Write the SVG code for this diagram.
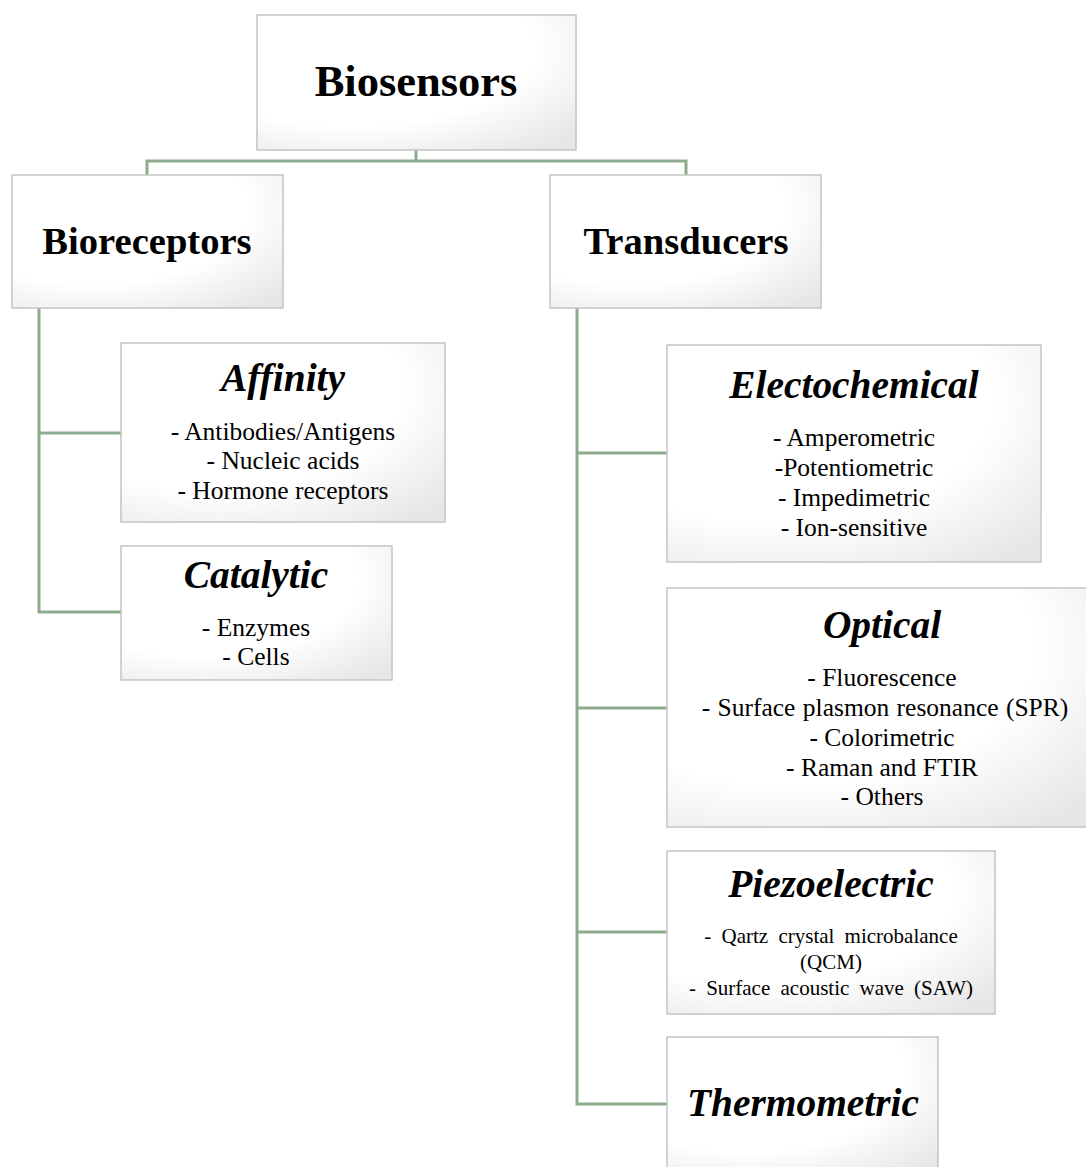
<svg xmlns="http://www.w3.org/2000/svg" width="1086" height="1167" viewBox="0 0 1086 1167">
<defs>
<radialGradient id="g" cx="0.3" cy="0.25" r="0.95" fx="0.3" fy="0.25">
<stop offset="0" stop-color="#ffffff"/>
<stop offset="0.6" stop-color="#ffffff"/>
<stop offset="1" stop-color="#e6e6e6"/>
</radialGradient>
</defs>
<style>
.box{fill:url(#g);stroke:#c4c4c4;stroke-width:1.5}
.con{fill:none;stroke:#8fab8f;stroke-width:3}
text{font-family:"Liberation Serif","Times New Roman",serif;fill:#000;text-anchor:middle}
.h1{font-size:44.5px;font-weight:bold}
.h2{font-size:38.6px;font-weight:bold}
.h3{font-size:39.4px;font-weight:bold;font-style:italic}
.b{font-size:25.5px}
.s{font-size:21px;word-spacing:5px}
</style>
<rect width="1086" height="1167" fill="#ffffff"/>
<g id="connectors">
<path class="con" d="M416 150V161M147 175V161H686V175"/>
<path class="con" d="M39 308V612H121M39 433H121"/>
<path class="con" d="M577 308V1104H667M577 453H667M577 708H667M577 932H667"/>
</g>
<g id="biosensors">
<rect class="box" x="257" y="15" width="319" height="135"/>
<text class="h1" x="416" y="96">Biosensors</text>
</g>
<g id="bioreceptors">
<rect class="box" x="12" y="175" width="271" height="133"/>
<text class="h2" x="147" y="254">Bioreceptors</text>
</g>
<g id="transducers">
<rect class="box" x="550" y="175" width="271" height="133"/>
<text class="h2" x="686" y="254">Transducers</text>
</g>
<g id="affinity">
<rect class="box" x="121" y="343" width="324" height="179"/>
<text class="h3" x="283" y="391">Affinity</text>
<text class="b" x="283" y="440">- Antibodies/Antigens</text>
<text class="b" x="283" y="469">- Nucleic acids</text>
<text class="b" x="283" y="499">- Hormone receptors</text>
</g>
<g id="catalytic">
<rect class="box" x="121" y="546" width="271" height="134"/>
<text class="h3" x="256" y="588">Catalytic</text>
<text class="b" x="256" y="636">- Enzymes</text>
<text class="b" x="256" y="665">- Cells</text>
</g>
<g id="electrochemical">
<rect class="box" x="667" y="345" width="374" height="217"/>
<text class="h3" x="854" y="398">Electochemical</text>
<text class="b" x="854" y="446">- Amperometric</text>
<text class="b" x="854" y="476">-Potentiometric</text>
<text class="b" x="854" y="506">- Impedimetric</text>
<text class="b" x="854" y="536">- Ion-sensitive</text>
</g>
<g id="optical">
<rect class="box" x="667" y="588" width="422" height="239"/>
<text class="h3" x="882" y="638">Optical</text>
<text class="b" x="882" y="686">- Fluorescence</text>
<text class="b" x="885" y="716" style="word-spacing:1px">- Surface plasmon resonance (SPR)</text>
<text class="b" x="882" y="746">- Colorimetric</text>
<text class="b" x="882" y="776">- Raman and FTIR</text>
<text class="b" x="882" y="805">- Others</text>
</g>
<g id="piezoelectric">
<rect class="box" x="667" y="851" width="328" height="163"/>
<text class="h3" x="831" y="897">Piezoelectric</text>
<text class="s" x="831" y="943">- Qartz crystal microbalance</text>
<text class="s" x="831" y="969">(QCM)</text>
<text class="s" x="831" y="995">- Surface acoustic wave (SAW)</text>
</g>
<g id="thermometric">
<rect class="box" x="667" y="1037" width="271" height="140"/>
<text class="h3" x="803" y="1116">Thermometric</text>
</g>
</svg>
